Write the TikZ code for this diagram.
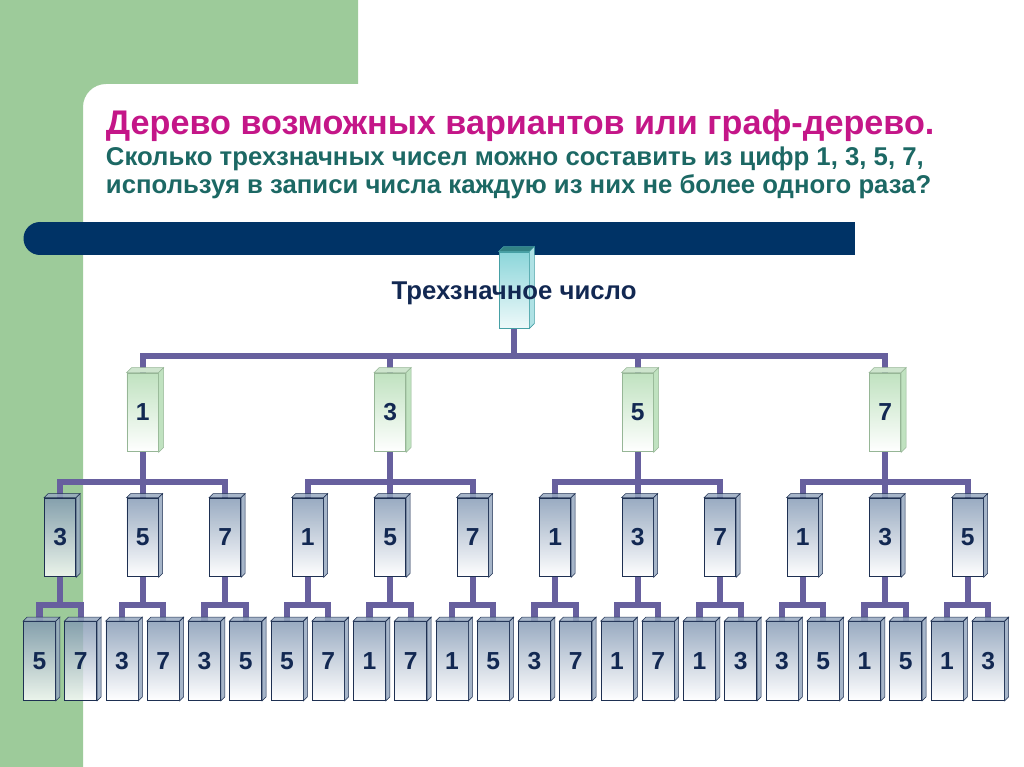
\documentclass[tikz,border=0pt]{standalone}
\usepackage{fontspec}
\setmainfont{Liberation Sans}
\definecolor{panelgreen}{RGB}{157,203,154}
\definecolor{barnavy}{RGB}{0,51,102}
\definecolor{titlemag}{RGB}{196,22,136}
\definecolor{askteal}{RGB}{28,104,100}
\definecolor{labelnavy}{RGB}{18,40,82}
\definecolor{linkcol}{RGB}{103,96,158}
\definecolor{roottop}{RGB}{140,214,218}
\definecolor{rootedge}{RGB}{70,160,165}
\definecolor{rootface}{RGB}{50,130,132}
\definecolor{greentop}{RGB}{192,226,192}
\definecolor{greenedge}{RGB}{150,182,150}
\definecolor{greenface}{RGB}{205,228,205}
\definecolor{bluetop}{RGB}{128,150,178}
\definecolor{blueedge}{RGB}{30,48,82}
\definecolor{blueface}{RGB}{150,168,192}
\pgfdeclarelayer{back}
\pgfdeclarelayer{wires}
\pgfsetlayers{back,wires,main}
\tikzset{
  link/.style={draw=linkcol, line width=4.3pt},
  box/.style={rectangle, line width=0.6pt, minimum width=0.78cm, minimum height=1.97cm,
    inner sep=0pt, font=\fontsize{17.5}{20}\selectfont\bfseries, text=labelnavy},
  rootbox/.style={box, draw=rootedge, top color=roottop, bottom color=roottop!15,
    minimum width=0.75cm, minimum height=1.9cm},
  digitbox/.style={box, draw=greenedge, top color=greentop, bottom color=white},
  leafbox/.style={box, draw=blueedge, top color=bluetop, bottom color=white,
    fill opacity=0.8, text opacity=1}
}
\begin{document}
\begin{tikzpicture}[x=0.025cm,y=-0.025cm]
\useasboundingbox (0,0) rectangle (1024,767);
\begin{pgfonlayer}{back}
  \fill[panelgreen] (0,0) -- (358,0) -- (358,84) -- (106,84)
    arc[start angle=270, end angle=180, radius=23] -- (83,767) -- (0,767) -- cycle;
  \fill[barnavy] (40,222) rectangle (855,255);
  \fill[barnavy] (40,238.5) circle[radius=16.5];
\end{pgfonlayer}
% heading
\node[anchor=base west, text=titlemag, font=\fontsize{24.3}{28}\selectfont\bfseries] (title) at (101,135)
  {Дерево возможных вариантов или граф-дерево.};
\node[anchor=base west, text=askteal, font=\fontsize{18.3}{20}\selectfont\bfseries] (ask1) at (101,166)
  {Сколько трехзначных чисел можно составить из цифр 1, 3, 5, 7,};
\node[anchor=base west, text=askteal, font=\fontsize{18.3}{20}\selectfont\bfseries] (ask2) at (101,194)
  {используя в записи числа каждую из них не более одного раза?};
% root
\node[rootbox] (root) at (514,290) {};
\filldraw[draw=rootedge, fill=rootface] (root.north west) -- ++(5,-5) -- ([shift={(5,-5)}]root.north east) -- (root.north east) -- cycle;
\filldraw[draw=rootedge, fill=roottop!70] (root.north east) -- ++(5,-5) -- ([shift={(5,-5)}]root.south east) -- (root.south east) -- cycle;
\node[anchor=base, text=labelnavy, font=\fontsize{18.3}{22}\selectfont\bfseries] (rootlbl) at (514,299) {Трехзначное число};
% first digit
\foreach \d [count=\k] in {1,3,5,7} {
  \node[digitbox] (a\k) at ({142.6+247.5*(\k-1)},412.5) {\d};
  \filldraw[draw=greenedge, fill=greenface] (a\k.north west) -- ++(5,-5) -- ([shift={(5,-5)}]a\k.north east) -- (a\k.north east) -- cycle;
  \filldraw[draw=greenedge, fill=greentop] (a\k.north east) -- ++(5,-5) -- ([shift={(5,-5)}]a\k.south east) -- (a\k.south east) -- cycle;
}
% second digit
\foreach \d [count=\j] in {3,5,7,1,5,7,1,3,7,1,3,5} {
  \node[leafbox] (b\j) at ({60.1+82.5*(\j-1)},537.5) {\d};
  \filldraw[draw=blueedge, fill=blueface, fill opacity=0.85] (b\j.north west) -- ++(4,-4) -- ([shift={(4,-4)}]b\j.north east) -- (b\j.north east) -- cycle;
  \filldraw[draw=blueedge, fill=blueface, fill opacity=0.85] (b\j.north east) -- ++(4,-4) -- ([shift={(4,-4)}]b\j.south east) -- (b\j.south east) -- cycle;
}
% third digit
\foreach \d [count=\i] in {5,7,3,7,3,5,5,7,1,7,1,5,3,7,1,7,1,3,3,5,1,5,1,3} {
  \node[leafbox, minimum width=0.8cm] (c\i) at ({39.5+41.25*(\i-1)},661) {\d};
  \filldraw[draw=blueedge, fill=blueface, fill opacity=0.85] (c\i.north west) -- ++(4,-4) -- ([shift={(4,-4)}]c\i.north east) -- (c\i.north east) -- cycle;
  \filldraw[draw=blueedge, fill=blueface, fill opacity=0.85] (c\i.north east) -- ++(4,-4) -- ([shift={(4,-4)}]c\i.south east) -- (c\i.south east) -- cycle;
}
% links
\begin{pgfonlayer}{wires}
  \foreach \k in {1,...,4}
    \draw[link] (root.south) -- ++(0,28) -| (a\k.north);
  \foreach \j in {1,...,12} {
    \pgfmathtruncatemacro\p{(\j+2)/3}
    \draw[link] (a\p.south) -- ++(0,30) -| (b\j.north);
  }
  \foreach \i in {1,...,24} {
    \pgfmathtruncatemacro\p{(\i+1)/2}
    \draw[link] (b\p.south) -- ++(0,28) -| (c\i.north);
  }
\end{pgfonlayer}
\end{tikzpicture}
\end{document}
